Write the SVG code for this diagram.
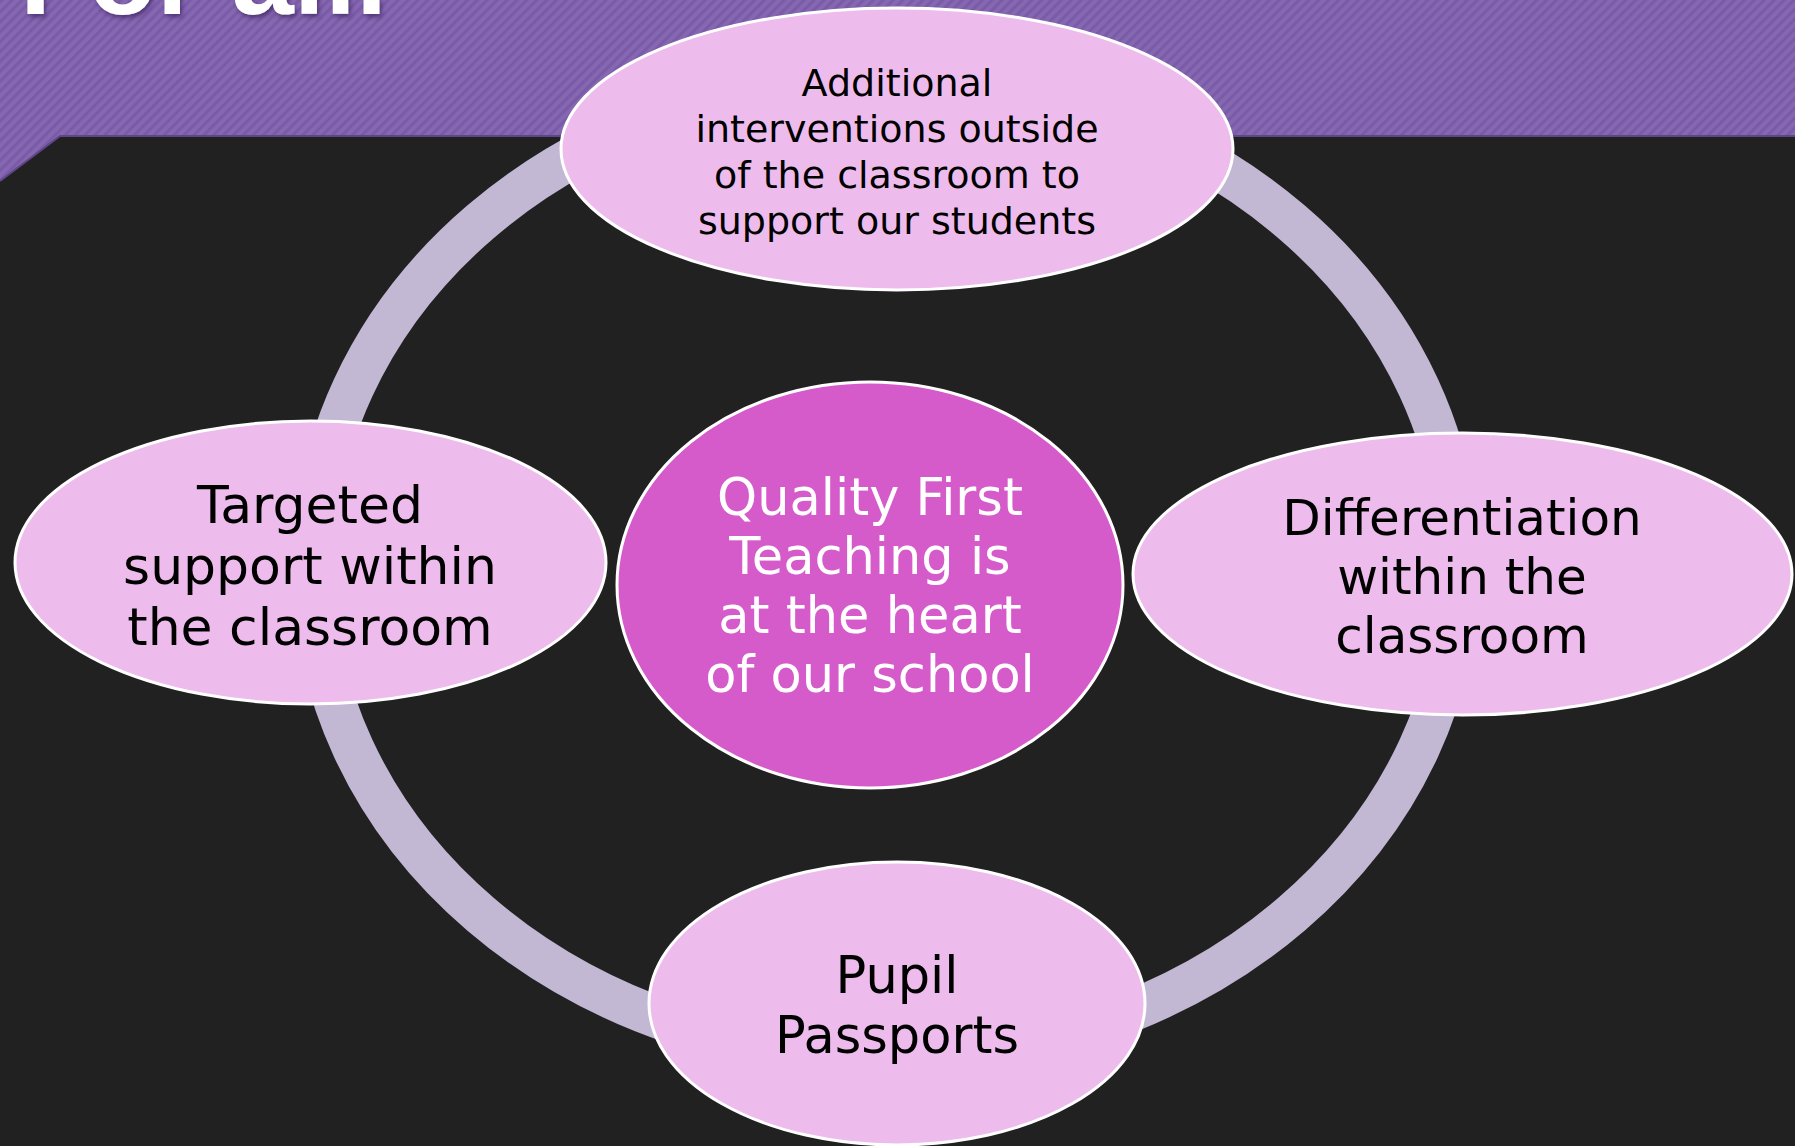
<svg xmlns="http://www.w3.org/2000/svg" width="1795" height="1146" viewBox="0 0 1795 1146">
<defs>
<pattern id="stripes" patternUnits="userSpaceOnUse" width="7" height="7" patternTransform="rotate(45)">
<rect width="7" height="7" fill="#8667b1"/>
<rect width="3.2" height="7" fill="#7a5ba7"/>
</pattern>
<filter id="sh" x="-10%" y="-10%" width="120%" height="140%">
<feDropShadow dx="2" dy="3" stdDeviation="2" flood-color="#3c2460" flood-opacity="0.7"/>
</filter>
</defs>
<style>
.node{fill:#eebcec;stroke:#ffffff;stroke-width:3}
.core{fill:#d65bca;stroke:#ffffff;stroke-width:3}
.lbl{font-family:"DejaVu Sans","Liberation Sans",sans-serif;fill:#000000;text-anchor:middle}
.lblw{font-family:"DejaVu Sans","Liberation Sans",sans-serif;fill:#ffffff;text-anchor:middle}
.title{font-family:"Liberation Sans","DejaVu Sans",sans-serif;font-weight:bold;fill:#ffffff}
</style>
<rect x="0" y="0" width="1795" height="1146" fill="url(#stripes)"/>
<text class="title" x="20" y="14" font-size="112" filter="url(#sh)">For all.</text>
<polygon points="0,181 60,136 1795,136 1795,1146 0,1146" fill="#212121"/>
<polyline points="0,181 60,136 1795,136" fill="none" stroke="#5f4689" stroke-width="2"/>
<g id="connectors">
<ellipse cx="886" cy="568" rx="573" ry="490" fill="none" stroke="#c2b8d4" stroke-width="42"/>
</g>
<g id="node-top">
<ellipse class="node" cx="897" cy="149" rx="336" ry="141"/>
<text class="lbl" font-size="38"><tspan x="897" y="96">Additional</tspan><tspan x="897" y="142">interventions outside</tspan><tspan x="897" y="188">of the classroom to</tspan><tspan x="897" y="234">support our students</tspan></text>
</g>
<g id="node-left">
<ellipse class="node" cx="310.5" cy="562.5" rx="295.5" ry="141.5"/>
<text class="lbl" font-size="52"><tspan x="310" y="523">Targeted</tspan><tspan x="310" y="584">support within</tspan><tspan x="310" y="645">the classroom</tspan></text>
</g>
<g id="node-right">
<ellipse class="node" cx="1462.5" cy="574" rx="329.5" ry="141"/>
<text class="lbl" font-size="50"><tspan x="1462" y="535">Differentiation</tspan><tspan x="1462" y="594">within the</tspan><tspan x="1462" y="653">classroom</tspan></text>
</g>
<g id="node-bottom">
<ellipse class="node" cx="897" cy="1003.5" rx="248" ry="141.5"/>
<text class="lbl" font-size="51"><tspan x="897" y="993">Pupil</tspan><tspan x="897" y="1053">Passports</tspan></text>
</g>
<g id="node-center">
<ellipse class="core" cx="870" cy="585" rx="253" ry="203"/>
<text class="lblw" font-size="51"><tspan x="870" y="515">Quality First</tspan><tspan x="870" y="574">Teaching is</tspan><tspan x="870" y="633">at the heart</tspan><tspan x="870" y="692">of our school</tspan></text>
</g>
</svg>
